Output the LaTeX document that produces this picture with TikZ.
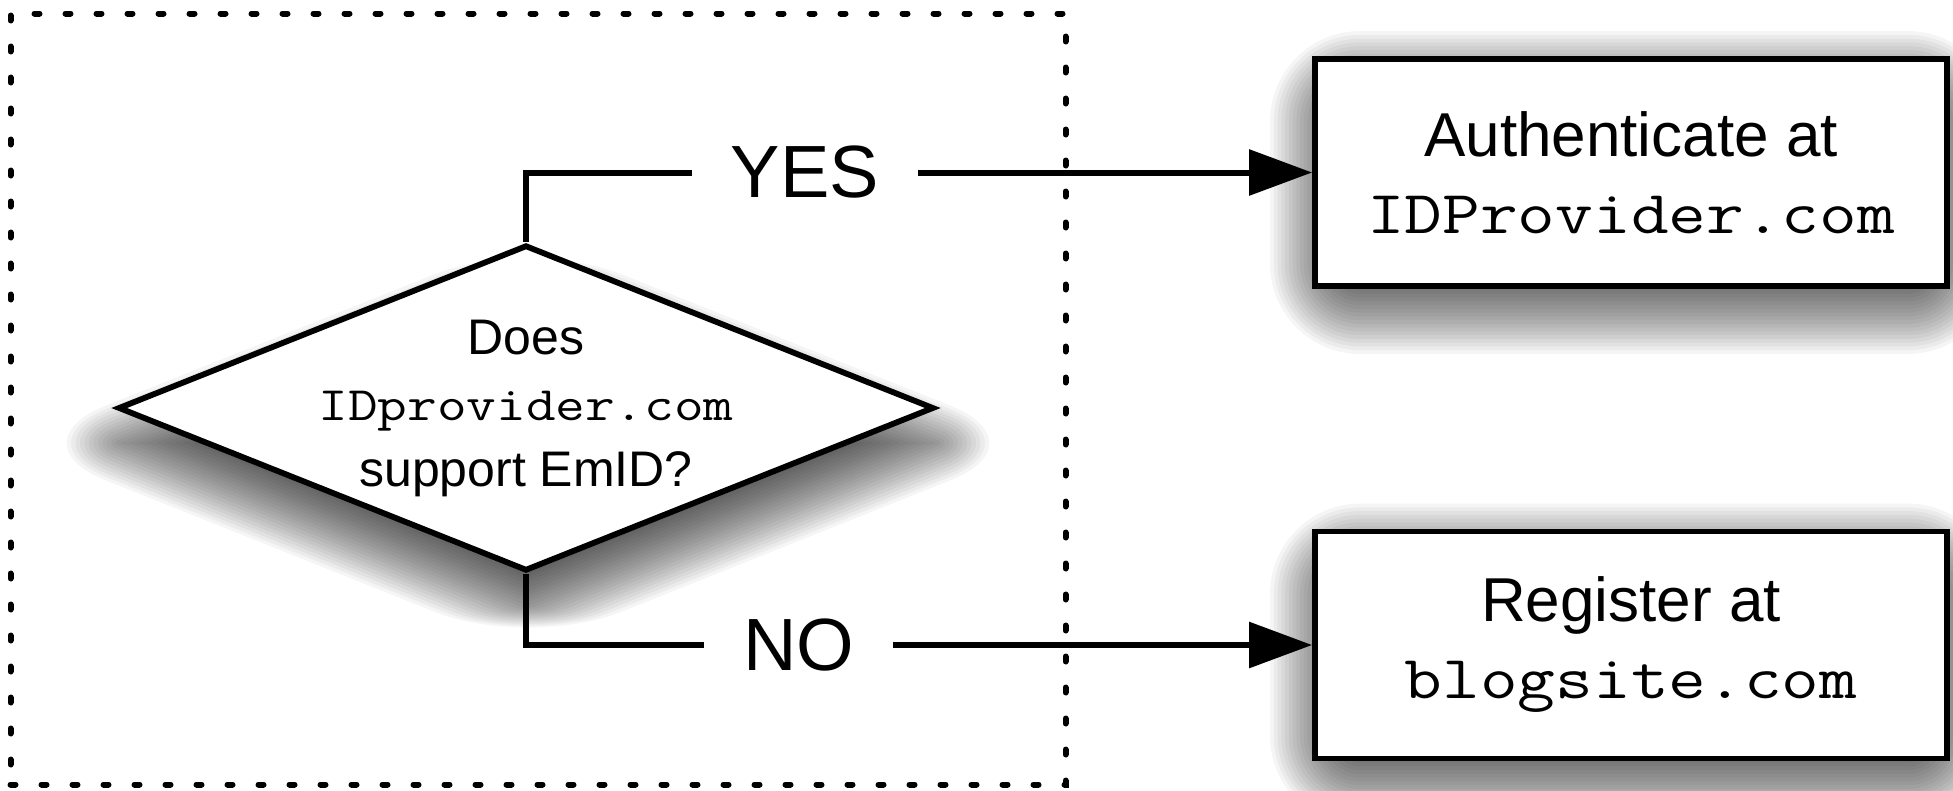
\documentclass[tikz,border=0pt]{standalone}
\usepackage{fontspec}
\setmainfont{Liberation Sans}
\newfontfamily\courierlike{Latin Modern Mono}[FakeStretch=1.2]
\newcommand\decurl[1]{{\fontsize{48}{66}\courierlike #1}}
\newcommand\boxurl[1]{{\fontsize{61}{77}\courierlike #1}}
\usetikzlibrary{shapes.geometric,arrows.meta,backgrounds}
\begin{document}
\begin{tikzpicture}[x=1pt,y=-1pt,line width=5.8pt,
  framebox/.style={draw,line width=6pt,dash pattern=on 5pt off 26pt,line cap=round,
    minimum width=1055pt,minimum height=771pt,inner sep=0pt},
  shadowlayer/.style={fill=black,fill opacity=0.038},
  decision/.style={diamond,draw,fill=white,aspect=2.5,minimum width=816pt,
    minimum height=326pt,inner sep=0pt},
  dectxt/.style={font=\fontsize{50}{66}\selectfont,align=center,inner sep=0pt},
  stepbox/.style={rectangle,draw,fill=white,minimum width=632pt,minimum height=227pt,
    font=\fontsize{62}{77}\selectfont,align=center},
  answer/.style={font=\fontsize{74}{80}\selectfont,inner xsep=36pt,inner ysep=0pt},
  link/.style={line width=6pt},
  arrowlink/.style={link,-{Triangle[length=63pt,width=45pt]}}
]
\useasboundingbox (0,0) rectangle (1953,790);
\node[framebox] (frame) at (538,399) {};
\node[decision] (dec) at (526,408) {};
\node[dectxt] (dectext) at (dec.center) {Does\\\decurl{IDprovider.com}\\support EmID?};
\node[stepbox] (auth) at (1631,172.5) {Authenticate at\\\boxurl{IDProvider.com}};
\node[stepbox] (reg) at (1631,645) {Register at\\\boxurl{blogsite.com}};
\node[answer] (yes) at (805,172.5) {YES};
\node[answer] (no) at (798.5,645) {NO};
\draw[link] (dec.north) |- (yes.west);
\draw[arrowlink] (yes.east) -- (auth.west);
\draw[link] (dec.south) |- (no.west);
\draw[arrowlink] (no.east) -- (reg.west);
\begin{pgfonlayer}{background}
\fill[white] (0,0) rectangle (1953,790);
\foreach \k in {1,...,24}{
  \pgfmathsetmacro\d{-45+90*\k/24}
  \pgfmathsetmacro\r{45+\d}
  \foreach \n in {auth,reg}{
    \fill[shadowlayer,rounded corners=\r pt]
      ([shift={(3-\d,20-\d)}]\n.north west) rectangle ([shift={(3+\d,20+\d)}]\n.south east);
  }
  \pgfmathsetmacro\e{-40+80*\k/24}
  \pgfmathsetmacro\q{max(2.5*\e,0.01)}
  \fill[shadowlayer,rounded corners=\q pt]
    ([shift={(2,35-163-1.077*\e)}]dec.center) -- ([shift={(2+408+2.695*\e,35)}]dec.center)
    -- ([shift={(2,35+163+1.077*\e)}]dec.center) -- ([shift={(2-408-2.695*\e,35)}]dec.center) -- cycle;
}
\end{pgfonlayer}
\end{tikzpicture}
\end{document}
